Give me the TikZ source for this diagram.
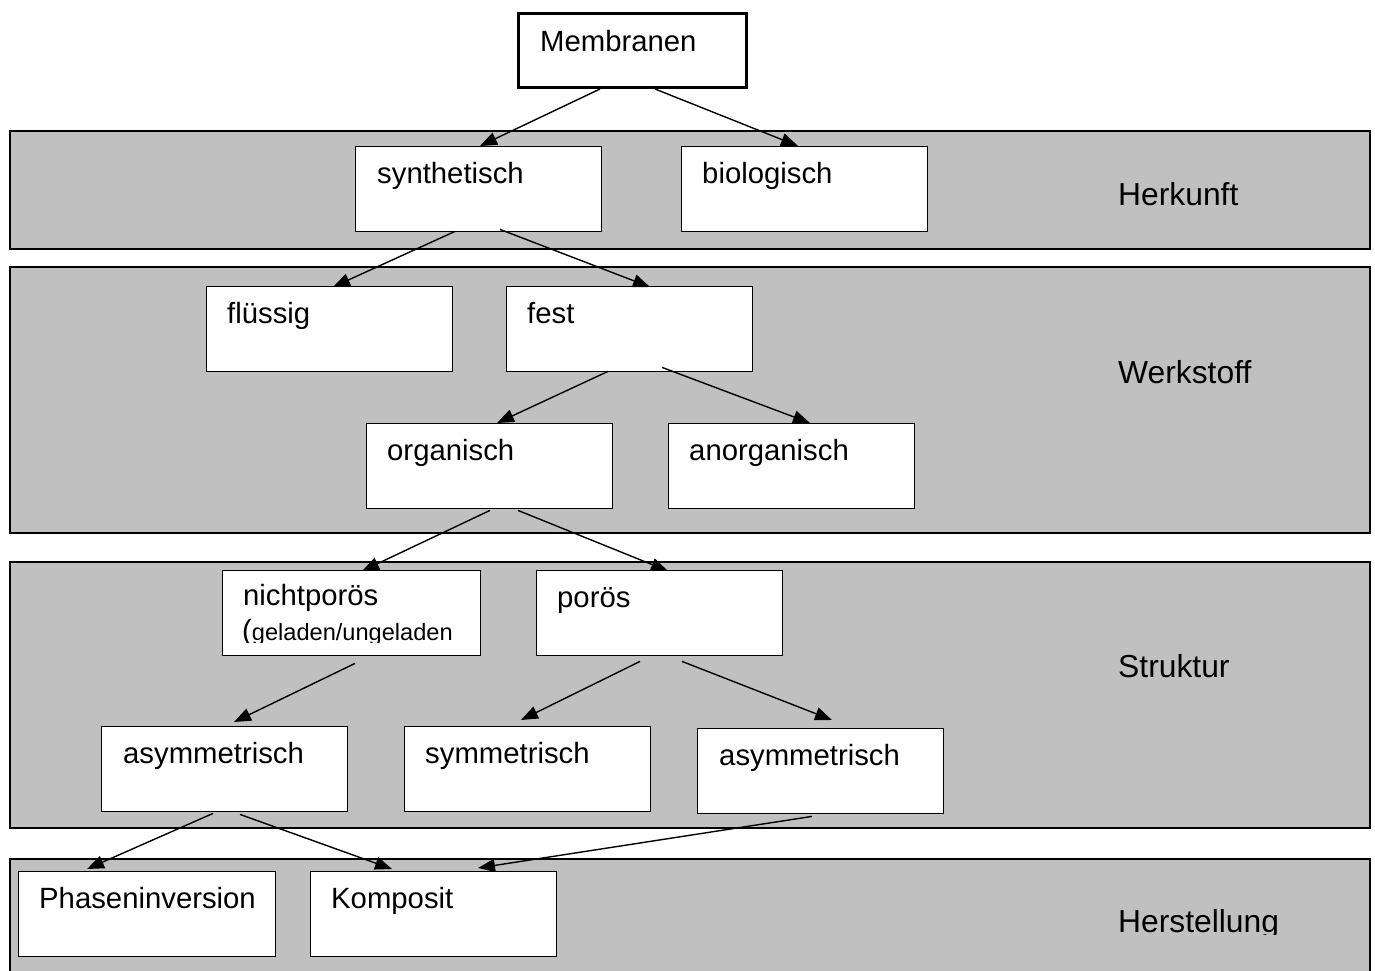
\documentclass[tikz,border=0pt]{standalone}
\usepackage{fontspec}
\setmainfont{Liberation Sans}
\usetikzlibrary{arrows.meta,calc}

\tikzset{
  band/.style={fill=bandgray, draw=black, line width=1.4pt},
  box/.style={draw=black, fill=white, line width=1.4pt, rectangle,
    minimum width=246pt, minimum height=85pt, anchor=north west, inner sep=0pt},
  txt/.style={anchor=base west, inner sep=0pt, font=\fontsize{29.3}{35}\selectfont},
  lbl/.style={anchor=base west, inner sep=0pt, font=\fontsize{31.8}{38}\selectfont},
  conn/.style={line width=1.4pt, -{Triangle[length=17pt,width=13pt]}},
}
\definecolor{bandgray}{HTML}{C0C0C0}

\begin{document}
\begin{tikzpicture}[x=1pt,y=-1pt]
\useasboundingbox (0,0) rectangle (1375,971);

% classification bands
\draw[band] (10,131) rectangle (1370,249);
\draw[band] (10,267) rectangle (1370,533);
\draw[band] (10,562) rectangle (1370,828);
\fill[bandgray] (10,859) rectangle (1370,971);
\draw[line width=1.4pt] (10,971) -- (10,859) -- (1370,859) -- (1370,971);

% band labels
\node[lbl] (lherk) at (1118,205) {Herkunft};
\node[lbl] (lwerk) at (1118,383) {Werkstoff};
\node[lbl] (lstru) at (1118,677) {Struktur};
\begin{scope}
  \clip (1100,880) rectangle (1320,934);
  \node[lbl] (lhers) at (1118,932) {Herstellung};
\end{scope}

% root
\node[box, line width=3pt, minimum width=228pt, minimum height=74pt] (mem) at (517,12) {};
\node[txt] (memt) at ([shift={(23,40)}]mem.north west) {Membranen};

% level 1
\node[box] (syn) at (355,146) {};
\node[box] (bio) at (681,146) {};
% level 2
\node[box] (flu) at (206,286) {};
\node[box] (fest) at (506,286) {};
\node[box] (org) at (366,423) {};
\node[box] (anorg) at (668,423) {};
% level 3
\node[box, minimum width=258pt] (nicht) at (222,570) {};
\node[box] (poros) at (536,570) {};
\node[box] (asyma) at (101,726) {};
\node[box] (sym) at (404,726) {};
\node[box] (asymb) at (697,728) {};
% level 4
\node[box, minimum width=257pt] (phase) at (18,871) {};
\node[box] (komp) at (310,871) {};

% box texts
\node[txt] (synt) at ([shift={(22,37)}]syn.north west) {synthetisch};
\node[txt] (biot) at ([shift={(21,37)}]bio.north west) {biologisch};
\node[txt] (flut) at ([shift={(21,37)}]flu.north west) {flüssig};
\node[txt] (festt) at ([shift={(21,37)}]fest.north west) {fest};
\node[txt] (orgt) at ([shift={(21,37)}]org.north west) {organisch};
\node[txt] (anorgt) at ([shift={(21,37)}]anorg.north west) {anorganisch};
\node[txt] (nichtt) at ([shift={(21,35)}]nicht.north west) {nichtporös};
\begin{scope}
  \clip ([shift={(2,40)}]nicht.north west) rectangle ([shift={(-2,72)}]nicht.north east);
  \node[txt] (nichtu) at ([shift={(20,70)}]nicht.north west)
    {(\fontsize{23.6}{28}\selectfont geladen/ungeladen};
\end{scope}
\node[txt] (porost) at ([shift={(21,37)}]poros.north west) {porös};
\node[txt] (asymat) at ([shift={(22,37)}]asyma.north west) {asymmetrisch};
\node[txt] (symt) at ([shift={(21,37)}]sym.north west) {symmetrisch};
\node[txt] (asymbt) at ([shift={(22,37)}]asymb.north west) {asymmetrisch};
\node[txt] (phaset) at ([shift={(21,37)}]phase.north west) {Phaseninversion};
\node[txt] (kompt) at ([shift={(21,37)}]komp.north west) {Komposit};

% connectors
\draw[conn] ($(mem.south west)+(83,0)$) -- ($(syn.north west)+(125,0)$);
\draw[conn] ($(mem.south west)+(138,0)$) -- ($(bio.north west)+(117,0)$);
\draw[conn] ($(syn.south west)+(100,-1)$) -- ($(flu.north west)+(127,1)$);
\draw[conn] ($(syn.south west)+(145,-3)$) -- ($(fest.north west)+(144,1)$);
\draw[conn] ($(fest.south west)+(102,-1)$) -- ($(org.north west)+(131,0)$);
\draw[conn] ($(fest.south west)+(156,-5)$) -- ($(anorg.north west)+(142,0)$);
\draw[conn] ($(org.south west)+(124,1)$) -- ($(nicht.north west)+(140,1)$);
\draw[conn] ($(org.south west)+(152,1)$) -- ($(poros.north west)+(132,1)$);
\draw[conn] ($(nicht.south west)+(133,7)$) -- ($(asyma.north west)+(133,-4)$);
\draw[conn] ($(poros.south west)+(104,5)$) -- ($(sym.north west)+(117,-6)$);
\draw[conn] ($(poros.south west)+(146,5)$) -- ($(asymb.north west)+(135,-8)$);
\draw[conn] ($(asyma.south west)+(112,1)$) -- ($(phase.north west)+(69,-2)$);
\draw[conn] ($(asyma.south west)+(139,2)$) -- ($(komp.north west)+(82,-2)$);
\draw[conn] ($(asymb.south west)+(115,2)$) -- ($(komp.north west)+(168,-3)$);
\end{tikzpicture}
\end{document}
